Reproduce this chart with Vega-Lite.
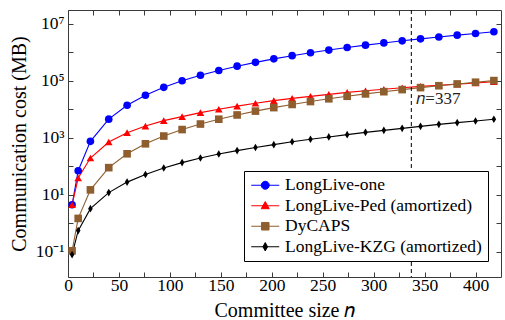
{
  "$schema": "https://vega.github.io/schema/vega-lite/v6.json",
  "width": 433,
  "height": 267,
  "autosize": {"type": "none"},
  "padding": {"left": 68, "top": 10, "right": 4, "bottom": 43},
  "background": "white",
  "config": {"view": {"stroke": null}, "font": "Liberation Serif"},
  "data": {"values": [
    {"n": 4, "s": "LongLive-one", "v": 4.5}, {"n": 10, "s": "LongLive-one", "v": 70}, {"n": 22, "s": "LongLive-one", "v": 750}, {"n": 40, "s": "LongLive-one", "v": 4500}, {"n": 58, "s": "LongLive-one", "v": 13800}, {"n": 76, "s": "LongLive-one", "v": 31000}, {"n": 94, "s": "LongLive-one", "v": 58500}, {"n": 112, "s": "LongLive-one", "v": 99000}, {"n": 130, "s": "LongLive-one", "v": 155000}, {"n": 148, "s": "LongLive-one", "v": 228000}, {"n": 166, "s": "LongLive-one", "v": 322000}, {"n": 184, "s": "LongLive-one", "v": 439000}, {"n": 202, "s": "LongLive-one", "v": 581000}, {"n": 220, "s": "LongLive-one", "v": 751000}, {"n": 238, "s": "LongLive-one", "v": 950000}, {"n": 256, "s": "LongLive-one", "v": 1180000}, {"n": 274, "s": "LongLive-one", "v": 1450000}, {"n": 292, "s": "LongLive-one", "v": 1755000}, {"n": 310, "s": "LongLive-one", "v": 2100000}, {"n": 328, "s": "LongLive-one", "v": 2490000}, {"n": 346, "s": "LongLive-one", "v": 2920000}, {"n": 364, "s": "LongLive-one", "v": 3400000}, {"n": 382, "s": "LongLive-one", "v": 3930000}, {"n": 400, "s": "LongLive-one", "v": 4510000}, {"n": 418, "s": "LongLive-one", "v": 5150000},
    {"n": 4, "s": "LongLive-Ped (amortized)", "v": 4.5}, {"n": 10, "s": "LongLive-Ped (amortized)", "v": 39}, {"n": 22, "s": "LongLive-Ped (amortized)", "v": 195}, {"n": 40, "s": "LongLive-Ped (amortized)", "v": 708}, {"n": 58, "s": "LongLive-Ped (amortized)", "v": 1514}, {"n": 76, "s": "LongLive-Ped (amortized)", "v": 2570}, {"n": 94, "s": "LongLive-Ped (amortized)", "v": 3981}, {"n": 112, "s": "LongLive-Ped (amortized)", "v": 5495}, {"n": 130, "s": "LongLive-Ped (amortized)", "v": 7586}, {"n": 148, "s": "LongLive-Ped (amortized)", "v": 10000}, {"n": 166, "s": "LongLive-Ped (amortized)", "v": 12882}, {"n": 184, "s": "LongLive-Ped (amortized)", "v": 16218}, {"n": 202, "s": "LongLive-Ped (amortized)", "v": 19953}, {"n": 220, "s": "LongLive-Ped (amortized)", "v": 23988}, {"n": 238, "s": "LongLive-Ped (amortized)", "v": 28184}, {"n": 256, "s": "LongLive-Ped (amortized)", "v": 33113}, {"n": 274, "s": "LongLive-Ped (amortized)", "v": 38905}, {"n": 292, "s": "LongLive-Ped (amortized)", "v": 44668}, {"n": 310, "s": "LongLive-Ped (amortized)", "v": 50119}, {"n": 328, "s": "LongLive-Ped (amortized)", "v": 56234}, {"n": 346, "s": "LongLive-Ped (amortized)", "v": 63096}, {"n": 364, "s": "LongLive-Ped (amortized)", "v": 69183}, {"n": 382, "s": "LongLive-Ped (amortized)", "v": 75858}, {"n": 400, "s": "LongLive-Ped (amortized)", "v": 83176}, {"n": 418, "s": "LongLive-Ped (amortized)", "v": 91201},
    {"n": 4, "s": "DyCAPS", "v": 0.11}, {"n": 10, "s": "DyCAPS", "v": 1.5}, {"n": 22, "s": "DyCAPS", "v": 15}, {"n": 40, "s": "DyCAPS", "v": 90}, {"n": 58, "s": "DyCAPS", "v": 275}, {"n": 76, "s": "DyCAPS", "v": 615}, {"n": 94, "s": "DyCAPS", "v": 1150}, {"n": 112, "s": "DyCAPS", "v": 1940}, {"n": 130, "s": "DyCAPS", "v": 3030}, {"n": 148, "s": "DyCAPS", "v": 4470}, {"n": 166, "s": "DyCAPS", "v": 6310}, {"n": 184, "s": "DyCAPS", "v": 8600}, {"n": 202, "s": "DyCAPS", "v": 11400}, {"n": 220, "s": "DyCAPS", "v": 14700}, {"n": 238, "s": "DyCAPS", "v": 18600}, {"n": 256, "s": "DyCAPS", "v": 23200}, {"n": 274, "s": "DyCAPS", "v": 28400}, {"n": 292, "s": "DyCAPS", "v": 34400}, {"n": 310, "s": "DyCAPS", "v": 41100}, {"n": 328, "s": "DyCAPS", "v": 48700}, {"n": 346, "s": "DyCAPS", "v": 57200}, {"n": 364, "s": "DyCAPS", "v": 66600}, {"n": 382, "s": "DyCAPS", "v": 76900}, {"n": 400, "s": "DyCAPS", "v": 88300}, {"n": 418, "s": "DyCAPS", "v": 100800},
    {"n": 4, "s": "LongLive-KZG (amortized)", "v": 0.081}, {"n": 10, "s": "LongLive-KZG (amortized)", "v": 0.56}, {"n": 22, "s": "LongLive-KZG (amortized)", "v": 3.3}, {"n": 40, "s": "LongLive-KZG (amortized)", "v": 12}, {"n": 58, "s": "LongLive-KZG (amortized)", "v": 28}, {"n": 76, "s": "LongLive-KZG (amortized)", "v": 52}, {"n": 94, "s": "LongLive-KZG (amortized)", "v": 87}, {"n": 112, "s": "LongLive-KZG (amortized)", "v": 135}, {"n": 130, "s": "LongLive-KZG (amortized)", "v": 195}, {"n": 148, "s": "LongLive-KZG (amortized)", "v": 269}, {"n": 166, "s": "LongLive-KZG (amortized)", "v": 355}, {"n": 184, "s": "LongLive-KZG (amortized)", "v": 457}, {"n": 202, "s": "LongLive-KZG (amortized)", "v": 575}, {"n": 220, "s": "LongLive-KZG (amortized)", "v": 724}, {"n": 238, "s": "LongLive-KZG (amortized)", "v": 891}, {"n": 256, "s": "LongLive-KZG (amortized)", "v": 1072}, {"n": 274, "s": "LongLive-KZG (amortized)", "v": 1288}, {"n": 292, "s": "LongLive-KZG (amortized)", "v": 1549}, {"n": 310, "s": "LongLive-KZG (amortized)", "v": 1820}, {"n": 328, "s": "LongLive-KZG (amortized)", "v": 2138}, {"n": 346, "s": "LongLive-KZG (amortized)", "v": 2512}, {"n": 364, "s": "LongLive-KZG (amortized)", "v": 2951}, {"n": 382, "s": "LongLive-KZG (amortized)", "v": 3388}, {"n": 400, "s": "LongLive-KZG (amortized)", "v": 3890}, {"n": 418, "s": "LongLive-KZG (amortized)", "v": 4467}
  ]},
  "layer": [
    {
      "mark": {"type": "line", "strokeWidth": 1.1},
      "encoding": {
        "x": {"field": "n", "type": "quantitative", "scale": {"domain": [0, 425], "nice": false, "zero": false},
          "axis": {"orient": "bottom", "values": [0, 25, 50, 75, 100, 125, 150, 175, 200, 225, 250, 275, 300, 325, 350, 375, 400], "labelExpr": "datum.value % 50 === 0 ? datum.label : ''", "grid": false, "tickSize": -5, "tickColor": "#3a3a3a", "domainColor": "#3a3a3a", "labelFont": "Liberation Serif", "labelFontSize": 17.5, "labelColor": "black", "labelBaseline": "alphabetic", "labelPadding": 18, "labelFlush": false, "labelOverlap": false, "title": "Committee size 𝑛", "titleFont": "Liberation Serif", "titleFontSize": 20, "titleFontWeight": "normal", "titleColor": "black", "titleBaseline": "alphabetic", "titleY": 39.5}},
        "y": {"field": "v", "type": "quantitative", "scale": {"type": "log", "domain": [0.0133, 29900000], "nice": false},
          "axis": {"orient": "left", "values": [0.1, 1, 10, 100, 1000, 10000, 100000, 1000000, 10000000], "labelExpr": "datum.value == 0.1 ? '10⁻¹' : datum.value == 10 ? '10¹' : datum.value == 1000 ? '10³' : datum.value == 100000 ? '10⁵' : datum.value == 10000000 ? '10⁷' : ''", "grid": false, "tickSize": -5, "tickColor": "#3a3a3a", "domainColor": "#3a3a3a", "labelFont": "Liberation Serif", "labelFontSize": 17.5, "labelColor": "black", "labelPadding": 9, "labelFlush": false, "labelOverlap": false, "title": "Communication cost (MB)", "titleFont": "Liberation Serif", "titleFontSize": 20, "titleFontWeight": "normal", "titleColor": "black", "titleBaseline": "alphabetic", "titleX": -43}},
        "color": {"field": "s", "type": "nominal", "scale": {"domain": ["LongLive-one", "LongLive-Ped (amortized)", "DyCAPS", "LongLive-KZG (amortized)"], "range": ["#0000ff", "#ff0000", "#8f5e2e", "#000000"]},
          "legend": {"orient": "none", "legendX": 176, "legendY": 161, "title": null, "strokeColor": "black", "fillColor": "white", "padding": 5.5, "symbolSize": 196, "symbolStrokeWidth": 1, "labelFont": "Liberation Serif", "labelFontSize": 17.5, "labelColor": "black", "labelOffset": 18, "labelLimit": 0, "rowPadding": 1.5,
            "encode": {"symbols": {"update": {
              "shape": {"signal": "datum.value === 'LongLive-one' ? 'M-1,0H3M1.57,0A0.57,0.57,0,1,1,0.43,0A0.57,0.57,0,1,1,1.57,0Z' : datum.value === 'LongLive-Ped (amortized)' ? 'M-1,0H3M1,-0.6L1.57,0.42L0.43,0.42Z' : datum.value === 'DyCAPS' ? 'M-1,0H3M0.46,-0.54H1.54V0.54H0.46Z' : 'M-1,0H3M1,-0.6L1.33,0L1,0.6L0.67,0Z'"},
              "fill": {"signal": "scale('color', datum.value)"},
              "strokeWidth": {"value": 1},
              "opacity": {"value": 1}
            }}}}}
      }
    },
    {
      "transform": [{"filter": "datum.s === 'LongLive-one'"}],
      "mark": {"type": "point", "filled": true, "opacity": 1, "size": 58, "shape": "circle", "color": "#0000ff"},
      "encoding": {
        "x": {"field": "n", "type": "quantitative", "scale": {"domain": [0, 425], "nice": false, "zero": false},
          "axis": {"orient": "top", "values": [0, 25, 50, 75, 100, 125, 150, 175, 200, 225, 250, 275, 300, 325, 350, 375, 400], "labels": false, "title": null, "grid": false, "tickSize": -5, "tickColor": "#3a3a3a", "domainColor": "#3a3a3a"}},
        "y": {"field": "v", "type": "quantitative", "scale": {"type": "log", "domain": [0.0133, 29900000], "nice": false},
          "axis": {"orient": "right", "values": [0.1, 1, 10, 100, 1000, 10000, 100000, 1000000, 10000000], "labels": false, "title": null, "grid": false, "tickSize": -5, "tickColor": "#3a3a3a", "domainColor": "#3a3a3a"}}
      }
    },
    {
      "transform": [{"filter": "datum.s === 'LongLive-Ped (amortized)'"}],
      "mark": {"type": "point", "filled": true, "opacity": 1, "size": 58, "shape": "triangle-up", "color": "#ff0000"},
      "encoding": {
        "x": {"field": "n", "type": "quantitative", "scale": {"domain": [0, 425], "nice": false, "zero": false}, "axis": null},
        "y": {"field": "v", "type": "quantitative", "scale": {"type": "log", "domain": [0.0133, 29900000], "nice": false}, "axis": null}
      }
    },
    {
      "transform": [{"filter": "datum.s === 'DyCAPS'"}],
      "mark": {"type": "point", "filled": true, "opacity": 1, "size": 58, "shape": "square", "color": "#8f5e2e"},
      "encoding": {
        "x": {"field": "n", "type": "quantitative", "scale": {"domain": [0, 425], "nice": false, "zero": false}, "axis": null},
        "y": {"field": "v", "type": "quantitative", "scale": {"type": "log", "domain": [0.0133, 29900000], "nice": false}, "axis": null}
      }
    },
    {
      "transform": [{"filter": "datum.s === 'LongLive-KZG (amortized)'"}],
      "mark": {"type": "point", "filled": true, "opacity": 1, "size": 58, "shape": "M0,-1L0.6,0L0,1L-0.6,0Z", "color": "#000000"},
      "encoding": {
        "x": {"field": "n", "type": "quantitative", "scale": {"domain": [0, 425], "nice": false, "zero": false}, "axis": null},
        "y": {"field": "v", "type": "quantitative", "scale": {"type": "log", "domain": [0.0133, 29900000], "nice": false}, "axis": null}
      }
    },
    {
      "data": {"values": [{"n": 337, "label": "𝑛=337", "v": 15000}]},
      "mark": {"type": "rule", "strokeDash": [4, 3], "color": "black", "strokeWidth": 1},
      "encoding": {
        "x": {"field": "n", "type": "quantitative", "scale": {"domain": [0, 425], "nice": false, "zero": false}, "axis": null}
      }
    },
    {
      "data": {"values": [{"n": 337, "label": "𝑛=337", "v": 15000}]},
      "mark": {"type": "text", "align": "left", "baseline": "alphabetic", "dx": 5, "font": "Liberation Serif", "fontSize": 17, "color": "#222"},
      "encoding": {
        "x": {"field": "n", "type": "quantitative", "scale": {"domain": [0, 425], "nice": false, "zero": false}, "axis": null},
        "y": {"field": "v", "type": "quantitative", "scale": {"type": "log", "domain": [0.0133, 29900000], "nice": false}, "axis": null},
        "text": {"field": "label"}
      }
    }
  ],
  "resolve": {"axis": {"x": "independent", "y": "independent"}}
}
